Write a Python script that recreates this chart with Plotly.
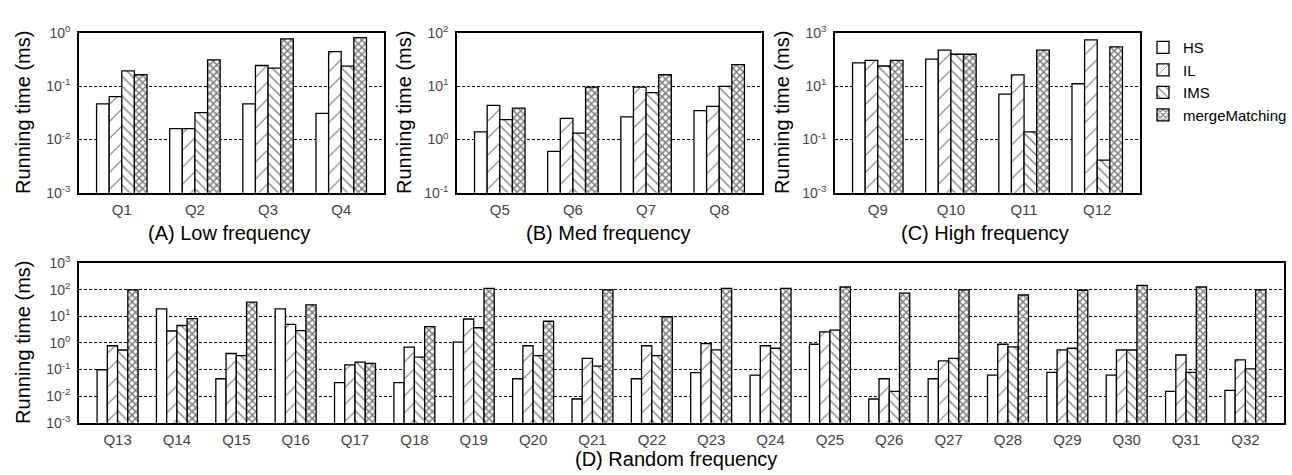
import plotly.graph_objects as go

W, H = 1292, 475

SERIES = ["HS", "IL", "IMS", "mergeMatching"]

CAT_A = ["Q1", "Q2", "Q3", "Q4"]
HS_A = [0.047, 0.016, 0.047, 0.031]
IL_A = [0.064, 0.016, 0.246, 0.45]
IMS_A = [0.195, 0.032, 0.22, 0.24]
MM_A = [0.165, 0.315, 0.78, 0.82]

CAT_B = ["Q5", "Q6", "Q7", "Q8"]
HS_B = [1.39, 0.60, 2.67, 3.5]
IL_B = [4.4, 2.5, 9.7, 4.2]
IMS_B = [2.36, 1.32, 7.6, 10.0]
MM_B = [3.9, 9.7, 16.5, 25.6]

CAT_C = ["Q9", "Q10", "Q11", "Q12"]
HS_C = [76, 106, 5.1, 12.5]
IL_C = [95, 229, 27, 560]
IMS_C = [58, 160, 0.195, 0.017]
MM_C = [95, 160, 229, 305]

CAT_D = ["Q%d" % i for i in range(13, 33)]
HS_D = [0.098, 19, 0.045, 19, 0.032, 0.032, 1.07, 0.045, 0.0078, 0.045,
        0.076, 0.062, 0.89, 0.0078, 0.045, 0.062, 0.078, 0.062, 0.015, 0.0165]
IL_D = [0.78, 2.8, 0.40, 5.0, 0.15, 0.69, 7.9, 0.78, 0.26, 0.78,
        0.93, 0.78, 2.6, 0.045, 0.21, 0.89, 0.55, 0.54, 0.35, 0.23]
IMS_D = [0.54, 4.5, 0.33, 2.9, 0.19, 0.29, 3.7, 0.33, 0.135, 0.33,
         0.55, 0.63, 3.0, 0.015, 0.26, 0.71, 0.63, 0.54, 0.078, 0.105]
MM_D = [98, 8.1, 34, 27, 0.17, 4.1, 112, 6.5, 98, 9.6,
        112, 112, 126, 74, 98, 63, 95, 144, 126, 98]

CAPTIONS = ["(A) Low frequency", "(B) Med frequency", "(C) High frequency", "(D) Random frequency"]
YTITLE = "Running time (ms)"

PATTERNS = [
    dict(shape="", fgcolor="black", bgcolor="white"),
    dict(shape="/", fgcolor="black", bgcolor="white", size=12, solidity=0.1),
    dict(shape="\\", fgcolor="black", bgcolor="white", size=7, solidity=0.2),
    dict(shape="x", fgcolor="black", bgcolor="white", size=5, solidity=0.5),
]

FONT = "Liberation Sans, Arial, sans-serif"


def px_x(p):
    return p / W


def px_y(p):
    return 1 - p / H


panels = [
    ("x", "y", CAT_A, [HS_A, IL_A, IMS_A, MM_A], (79, 384), (24, 190), (-3, 0), [-3, -2, -1, 0]),
    ("x2", "y2", CAT_B, [HS_B, IL_B, IMS_B, MM_B], (457, 762), (24, 190), (-1, 2), [-1, 0, 1, 2]),
    ("x3", "y3", CAT_C, [HS_C, IL_C, IMS_C, MM_C], (835, 1140), (24, 190), (-3, 3), [-3, -1, 1, 3]),
    ("x4", "y4", CAT_D, [HS_D, IL_D, IMS_D, MM_D], (79, 1284), (263, 429), (-3, 3), [-3, -2, -1, 0, 1, 2, 3]),
]

fig = go.Figure()

for pi, (xa, ya, cats, vals, (x0, x1), (y0, y1), yr, exps) in enumerate(panels):
    for si, name in enumerate(SERIES):
        fig.add_trace(go.Bar(
            x=cats, y=vals[si], name=name, xaxis=xa, yaxis=ya,
            legendgroup=name, showlegend=(pi == 0),
            marker=dict(color="white", line=dict(color="black", width=1.3),
                        pattern=PATTERNS[si]),
        ))
    n = len(cats)
    pad = 0.585 if n == 4 else 0.65
    xkey = "xaxis" if xa == "x" else "xaxis" + xa[1:]
    ykey = "yaxis" if ya == "y" else "yaxis" + ya[1:]
    fig.layout[xkey] = dict(
        domain=[px_x(x0), px_x(x1)], anchor=ya, type="category",
        range=[-pad, n - 1 + pad], showline=True, mirror=True,
        linecolor="black", linewidth=1.5, ticks="", showgrid=False,
        tickfont=dict(family=FONT, size=15, color="#444"),
        ticklabelstandoff=2 if n == 4 else 3, fixedrange=True,
    )
    fig.layout[ykey] = dict(
        domain=[px_y(y1), px_y(y0)], anchor=xa, type="log",
        range=list(yr), showline=True, mirror=True,
        linecolor="black", linewidth=1.5, ticks="",
        tickvals=[10 ** e for e in exps],
        ticktext=["10<sup>%d</sup>" % e for e in exps],
        tickfont=dict(family=FONT, size=14, color="#444"),
        showgrid=True, gridcolor="black", gridwidth=1, griddash="3px,2px",
        zeroline=False, ticklabelstandoff=4, fixedrange=True,
    )

annotations = []
# y-axis titles
for (xc, yc) in [(23, 107), (404, 107), (782, 107), (23, 346)]:
    annotations.append(dict(
        text=YTITLE, x=px_x(xc), y=px_y(yc), xref="paper", yref="paper",
        showarrow=False, textangle=-90, xanchor="center", yanchor="middle",
        font=dict(family=FONT, size=20, color="black"),
    ))
# captions
for cap, (xc, yc) in zip(CAPTIONS, [(229, 232), (608, 232), (985, 232), (676, 467)]):
    annotations.append(dict(
        text=cap, x=px_x(xc), y=px_y(yc), xref="paper", yref="paper",
        showarrow=False, xanchor="center", yanchor="middle",
        font=dict(family=FONT, size=20, color="black"),
    ))

fig.update_layout(
    width=W, height=H, margin=dict(l=0, r=0, t=0, b=0),
    paper_bgcolor="white", plot_bgcolor="white",
    barmode="group", bargap=0.31, bargroupgap=0,
    annotations=annotations,
    legend=dict(
        x=1.0, xanchor="right", y=px_y(22), yanchor="top",
        font=dict(family=FONT, size=15, color="black"),
        bgcolor="rgba(0,0,0,0)", tracegroupgap=0, itemwidth=30,
        traceorder="normal",
    ),
    font=dict(family=FONT),
)

fig.write_html("out.html")
